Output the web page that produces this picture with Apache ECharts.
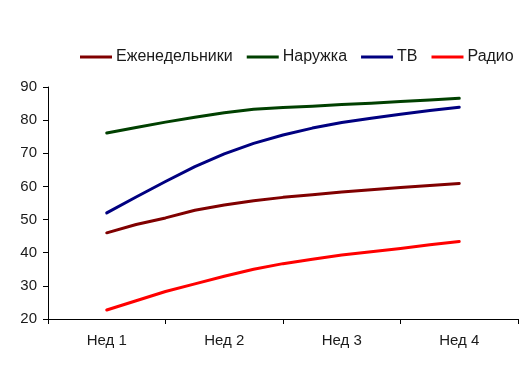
<!DOCTYPE html>
<html><head><meta charset="utf-8">
<script src="https://cdn.jsdelivr.net/npm/echarts@6/dist/echarts.min.js"></script>
<style>html,body{margin:0;padding:0;background:#fff}#c{width:525px;height:372px}</style>
</head><body><div id="c"></div>
<script>
const categories = ['Нед 1', 'Нед 2', 'Нед 3', 'Нед 4'];
const pointWeeks = [1, 1.25, 1.5, 1.75, 2, 2.25, 2.5, 2.75, 3, 3.25, 3.5, 3.75, 4];
const weekly = [46.0, 48.5, 50.5, 52.8, 54.4, 55.7, 56.7, 57.5, 58.3, 59.0, 59.7, 60.3, 60.9];
const outdoor = [76.1, 77.8, 79.4, 80.9, 82.2, 83.3, 83.8, 84.2, 84.7, 85.1, 85.6, 86.1, 86.6];
const tv = [52.0, 56.8, 61.5, 66.0, 69.8, 73.0, 75.5, 77.6, 79.3, 80.6, 81.8, 82.9, 83.9];
const radio = [22.7, 25.5, 28.3, 30.6, 32.9, 35.0, 36.7, 38.0, 39.3, 40.3, 41.3, 42.4, 43.4];
const seriesNames = ['Еженедельники', 'Наружка', 'ТВ', 'Радио'];
const colors = ['#800000', '#004000', '#000080', '#ff0000'];
const yTicks = [20, 30, 40, 50, 60, 70, 80, 90];

const allValues = [weekly, outdoor, tv, radio];
const chart = echarts.init(document.getElementById('c'), null, {renderer: 'canvas'});
const font = 'Liberation Sans, Arial, sans-serif';
chart.setOption({
  animation: false,
  color: colors,
  legend: {
    top: 44, left: 75,
    icon: 'rect', itemWidth: 32, itemHeight: 3, itemGap: 14,
    textStyle: {fontFamily: font, fontSize: 16, color: '#1a1a1a', padding: [0,0,0,-1]},
    data: seriesNames
  },
  grid: {left: 48, right: 7, top: 87, bottom: 53, containLabel: false},
  xAxis: [
    {type: 'category', data: categories, boundaryGap: true,
     axisLine: {lineStyle: {color: '#000', width: 1}},
     axisTick: {show: true, length: 5, lineStyle: {color: '#000'}},
     axisLabel: {fontFamily: font, fontSize: 15, color: '#1a1a1a', margin: 14},
     splitLine: {show: false}},
    {type: 'value', min: 0.5, max: 4.5, show: false}
  ],
  yAxis: {type: 'value', min: yTicks[0], max: yTicks[yTicks.length-1], interval: 10,
    axisLine: {show: true, lineStyle: {color: '#000'}},
    axisTick: {show: true, length: 5, lineStyle: {color: '#000'}},
    axisLabel: {fontFamily: font, fontSize: 15, color: '#1a1a1a', margin: 11},
    splitLine: {show: false}},
  series: seriesNames.map((n, i) => ({
    name: n, type: 'line', xAxisIndex: 1, symbol: 'none', smooth: false,
    lineStyle: {width: 3, color: colors[i], cap: 'round', join: 'round'},
    data: pointWeeks.map((w, k) => [w, allValues[i][k]])
  }))
});
</script></body></html>
